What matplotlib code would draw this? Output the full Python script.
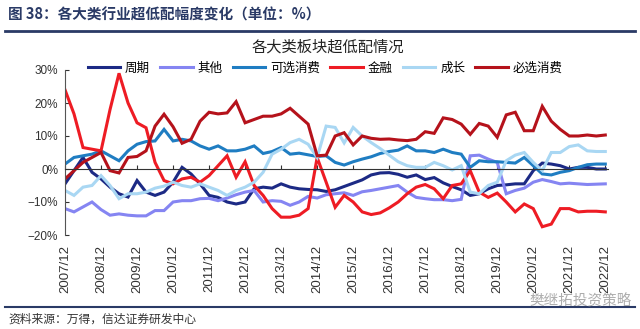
import matplotlib
matplotlib.use("Agg")
import matplotlib.pyplot as plt
from matplotlib.lines import Line2D
from matplotlib.ticker import FuncFormatter

plt.rcParams['font.family'] = ['Noto Sans CJK SC', 'DejaVu Sans']

# =============================
# Data (quarterly, 2007/12 - 2022/12, %)
# =============================
year_labels = ["2007/12", "2008/12", "2009/12", "2010/12", "2011/12", "2012/12",
               "2013/12", "2014/12", "2015/12", "2016/12", "2017/12", "2018/12",
               "2019/12", "2020/12", "2021/12", "2022/12"]

cycle = [-4.5, -0.5, 3.5, -1, -3, -5.5, -7.5, -8.5, -3.5, -7, -8, -7, -4, 0.5, -1.5,
         -4.5, -8, -8.6, -10, -10.6, -10, -6, -5.5, -5.8, -4.5, -5.5, -6, -6.2, -6.3,
         -6.8, -6.3, -5.3, -4.3, -3.3, -1.8, -1.2, -1.1, -1.6, -2.5, -1.8, -3.2, -2.6,
         -4.2, -5.3, -6.3, -8, -7.5, -6, -5, -4.8, -4.5, -4.5, -0.5, 1.8, 1.5, 1, 0,
         0.5, 0.5, 0, 0]
others = [-12, -13, -11.5, -10, -12.3, -14, -13.6, -14, -14.2, -14.2, -12.6, -12.6,
          -10, -9.6, -9.6, -9, -8.9, -9.6, -8.8, -7.8, -7, -6.5, -10, -9.6, -9.8, -11,
          -10, -8.3, -8.8, -7.8, -7.5, -7.2, -8, -6.9, -6.5, -6, -5.5, -5, -7, -8.6, -9,
          -9.3, -9.3, -9.6, -9.2, 4, 4.2, 3, 2, -7.5, -6.5, -5.8, -4, -3.2, -3.8, -4.5,
          -4.3, -4.5, -4.7, -4.6, -4.5]
discretionary = [1.5, 3.5, 4, 4.5, 5.5, 4, 2.5, 5.5, 7.5, 8.3, 8.5, 12, 8.5, 9, 8.5, 7,
                 6, 7, 5.5, 5.5, 6, 7, 4.7, 5.3, 6.5, 4.5, 4.8, 4.3, 3.8, 4, 2, 1.2, 2.2,
                 3, 3.7, 4.7, 5.3, 5.7, 7, 5.5, 5.5, 5, 6, 5, 4.5, 0.5, 2.5, 2.2, 2.2, 2,
                 1.8, 3.5, 1, -1.5, -1.8, -1, -0.5, 0.5, 1.3, 1.5, 1.5]
finance = [24, 16.7, 6.5, 6, 5.5, 18, 29, 20, 14, 12.5, 2, -3.5, -4.5, -3, -2.5, -4, -2,
           1, 4, -2.5, 2.2, -5, -8, -12, -14.6, -14.6, -14, -12, 3.5, -4, -11.6, -8, -10,
           -13, -13.8, -13.3, -11.8, -10, -7.5, -5.5, -4.7, -6, -9, -5, -4.5, -0.5, -7,
           -8.6, -7.3, -10, -13, -10.6, -12, -17.5, -16.7, -12, -12, -13, -12.8, -12.8, -13]
growth = [-6.5, -8, -5.5, -5, -2, -5, -9, -7.5, -7.5, -7, -5.8, -5.2, -4, -5, -5.5, -4.5,
          -5.5, -6.5, -8, -6.5, -5.5, -4, -1, 4.5, 6, 8, 9, 7.5, 3.5, 13, 12.6, 7.9, 12.6,
          10, 8, 6.2, 4.2, 2.2, 1, 0.5, 0.5, 2, 1, -0.3, 1, -7, -7.5, -5, -4, 2.5, 4.2, 5,
          2, -0.5, 5, 5, 6.8, 7.3, 5.5, 5.3, 5.3]
staples = [-3, -0.5, 2, 3.5, 5, -0.5, -1.2, 3.5, 3.8, 5.5, 13, 16.6, 12.8, 7.8, 9, 14.5,
           17.2, 16.7, 17, 20.4, 14, 15, 16, 16, 16.7, 18.4, 16, 13.6, 4, 4.2, 10, 11, 7.3,
           10, 9.3, 9, 9.1, 8.8, 8.6, 9, 11.3, 10.8, 15.5, 15, 13.6, 10.5, 13.8, 13, 9.6,
           16.4, 17.2, 11.6, 11.6, 19, 14.5, 12, 10, 10, 10.3, 10, 10.3]

series_names = ["周期", "其他", "可选消费", "金融", "成长", "必选消费"]
series_values = [cycle, others, discretionary, finance, growth, staples]
series_colors = ["#1c2a85", "#8585f2", "#1f7dc2", "#ee1c24", "#a9d7f3", "#b5121b"]

# =============================
# Figure
# =============================
fig = plt.figure(figsize=(6.4, 3.29), dpi=100)
ax = fig.add_axes([65 / 640, 94 / 329, 543 / 640, 165 / 329])

x = list(range(len(cycle)))
for name, vals, col in zip(series_names, series_values, series_colors):
    ax.plot(x, vals, color=col, lw=2.2, label=name, solid_joinstyle="miter")

ax.set_xlim(0, 60.3)
ax.set_ylim(-20, 30)
ax.set_yticks([-20, -10, 0, 10, 20, 30])
ax.yaxis.set_major_formatter(FuncFormatter(lambda v, p: f"{int(v)}%".replace("-", "\u2212")))
for lab in ax.get_yticklabels():
    lab.set_family("Liberation Sans")
ax.tick_params(axis="y", direction="in", length=3, width=0.8, labelsize=8.5,
               pad=5, colors="#333333")

# zero axis with year ticks
ax.spines["bottom"].set_position(("data", 0))
ax.spines["bottom"].set_color("#333333")
ax.spines["bottom"].set_linewidth(0.8)
ax.set_xticks(range(0, 61, 4))
ax.tick_params(axis="x", direction="in", length=3, width=0.8, labelbottom=False,
               colors="#333333")
ax.spines["left"].set_color("#555555")
ax.spines["left"].set_linewidth(0.8)
for s in ["top", "right"]:
    ax.spines[s].set_visible(False)

sec = ax.secondary_xaxis(0)
sec.set_xticks(range(0, 61, 4))
sec.set_xticklabels(year_labels, rotation=90, family="Liberation Sans", fontsize=9.5,
                    color="#333333")
sec.tick_params(length=0, pad=7)
sec.spines["bottom"].set_visible(False)

fig.legend(*ax.get_legend_handles_labels(), loc="center", ncol=6, frameon=False,
           bbox_to_anchor=(0.508, 1 - 68 / 329), fontsize=9, handlelength=2.6,
           handletextpad=0.4, columnspacing=0.8)

# =============================
# Titles and footer
# =============================
fig.text(0.5125, 1 - 47 / 329, "各大类板块超低配情况", ha="center", va="center",
         fontsize=11, color="#222222")
fig.text(8 / 640, 1 - 15 / 329, "图 38：各大类行业超低配幅度变化（单位：%）",
         ha="left", va="center", fontsize=10.5, fontweight="bold", color="#2a3a66")
fig.add_artist(Line2D([5 / 640, 635 / 640], [1 - 31 / 329] * 2, color="#2a3a66", lw=2))
fig.add_artist(Line2D([5 / 640, 635 / 640], [1 - 307 / 329] * 2, color="#2a3a66", lw=1.5))
fig.text(8 / 640, 1 - 319 / 329, "资料来源：万得，信达证券研发中心", ha="left",
         va="center", fontsize=8.5, color="#333333", style="italic")
fig.text(632 / 640, 1 - 301 / 329, "樊继拓投资策略", ha="right", va="center",
         fontsize=10.5, color="#999999", alpha=0.8)

fig.savefig("out.png", dpi=100)
